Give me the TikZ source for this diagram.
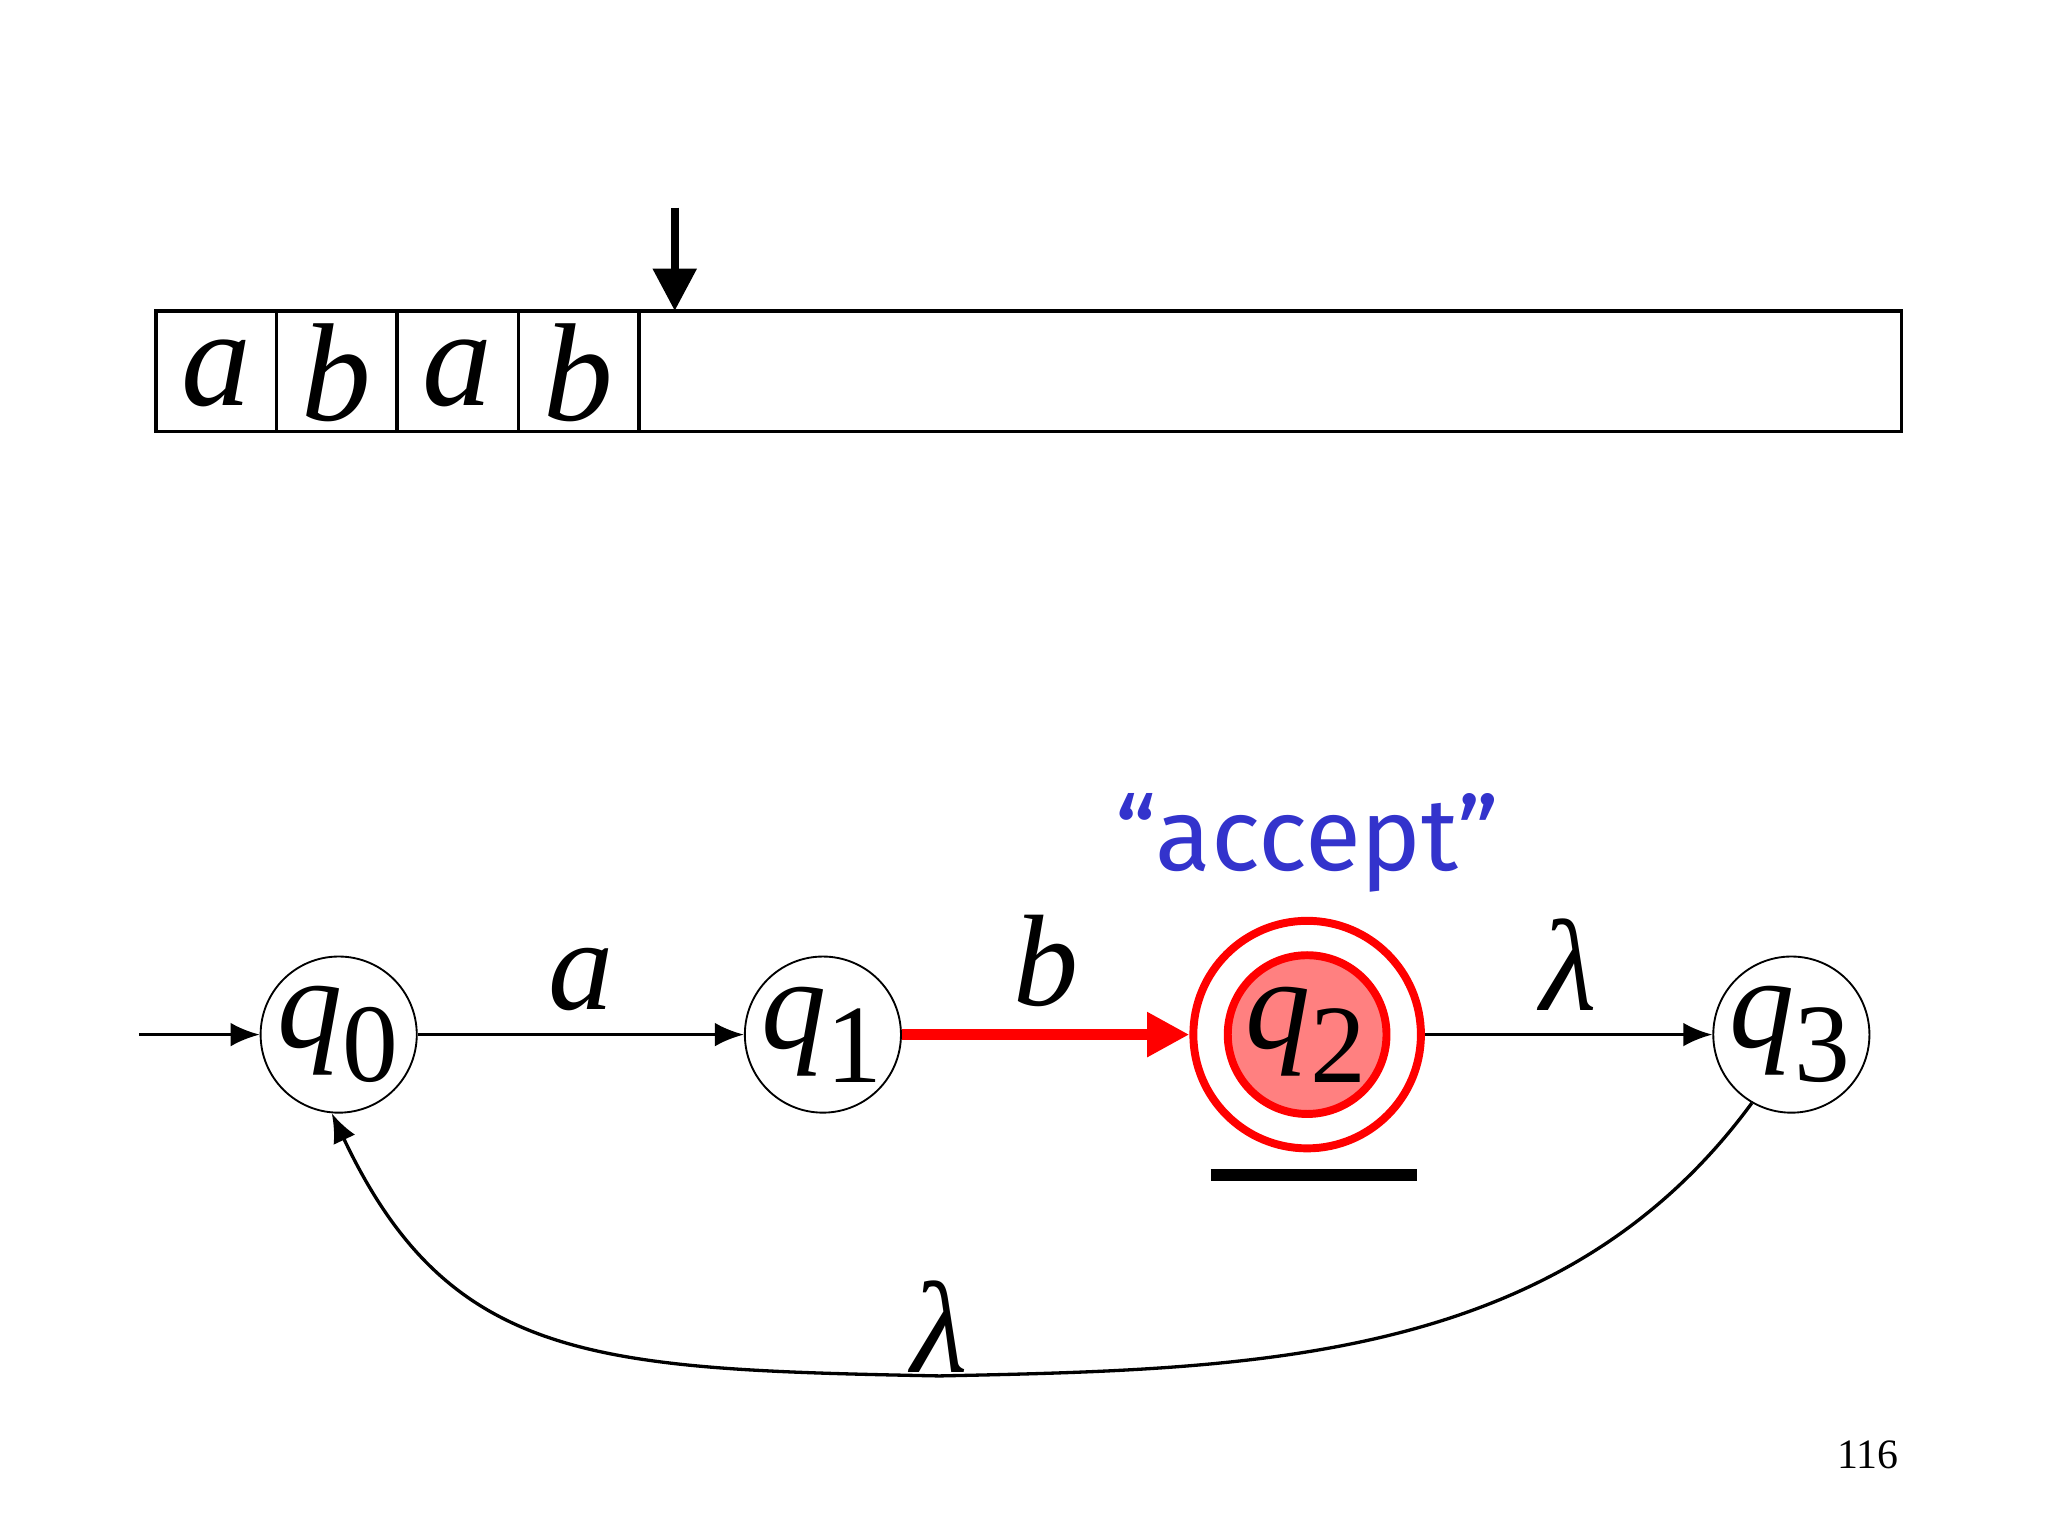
\documentclass[tikz,border=0pt]{standalone}
\usepackage{fontspec}
\setmainfont{Liberation Serif}
\newfontfamily\acceptfont{Fira Sans}
\usetikzlibrary{arrows.meta}
\definecolor{acceptblue}{RGB}{51,51,204}
\definecolor{statepink}{RGB}{255,128,128}
\newcommand{\qs}[1]{\textit{q}\textsubscript{\fontsize{24}{24}\selectfont\raisebox{-0.1em}{#1}}}
\tikzset{
  state/.style={draw, circle, minimum size=1.18cm, inner sep=0pt, font=\fontsize{28}{28}\selectfont},
  edge/.style={-{Latex[length=0.22cm,width=0.18cm]}, line width=0.25mm},
  sym/.style={font=\fontsize{28}{28}\selectfont\itshape},
}
\begin{document}
\begin{tikzpicture}
\useasboundingbox (0,0) rectangle (15.48,-11.61);
% tape
\draw[line width=0.25mm] (1.18,-2.35) rectangle (14.37,-3.26);
\foreach \x in {2.09,3.00,3.92,4.83}
  \draw[line width=0.25mm] (\x,-2.35) -- (\x,-3.26);
\foreach \x/\s in {1.635/a,2.545/b,3.46/a,4.375/b}
  \node[sym, font=\fontsize{30}{30}\selectfont\itshape] at (\x,-2.82) {\s};
\coordinate (headtop) at (5.10,-1.57);
\coordinate (headbot) at (5.10,-2.35);
\draw[-{Triangle[length=0.32cm,width=0.32cm]}, line width=0.6mm] (headtop) -- (headbot);
% states
\node[state] (q0) at (2.56,-7.82) {\qs{0}};
\node[state] (q1) at (6.22,-7.82) {\qs{1}};
\node[state, draw=red, line width=0.6mm, minimum size=1.72cm] (q2) at (9.88,-7.82) {};
\node[state, draw=red, line width=0.6mm, fill=statepink, minimum size=1.20cm] (q2in) at (9.88,-7.82) {\qs{2}};
\node[state] (q3) at (13.54,-7.82) {\qs{3}};
\coordinate (start) at (1.05,-7.82);
\draw[edge] (start) -- (q0);
\draw[edge] (q0) -- node[sym, above=0.05cm] {a} (q1);
\draw[-{Triangle[length=0.32cm,width=0.32cm]}, line width=0.8mm, red] (q1) -- node[sym, above=0.05cm, black] {b} (q2);
\draw[edge] (q2) -- node[sym, above=0.05cm] {λ} (q3);
\draw[edge] (q3.240) .. controls (11.8,-10.3) and (9.5,-10.35) .. (7.1,-10.40)
  node[sym, above=-0.1cm] {λ}
  .. controls (4.5,-10.35) and (3.4,-10.3) .. (q0.265);
% accept
\node[font=\acceptfont\fontsize{22}{22}\selectfont, text=acceptblue] (acc) at (9.88,-6.37) {“accept”};
\coordinate (barl) at (9.15,-8.88);
\coordinate (barr) at (10.71,-8.88);
\draw[line width=0.9mm] (barl) -- (barr);
\node[font=\fontsize{9}{9}\selectfont] (page) at (14.12,-11.0) {116};
\end{tikzpicture}
\end{document}
